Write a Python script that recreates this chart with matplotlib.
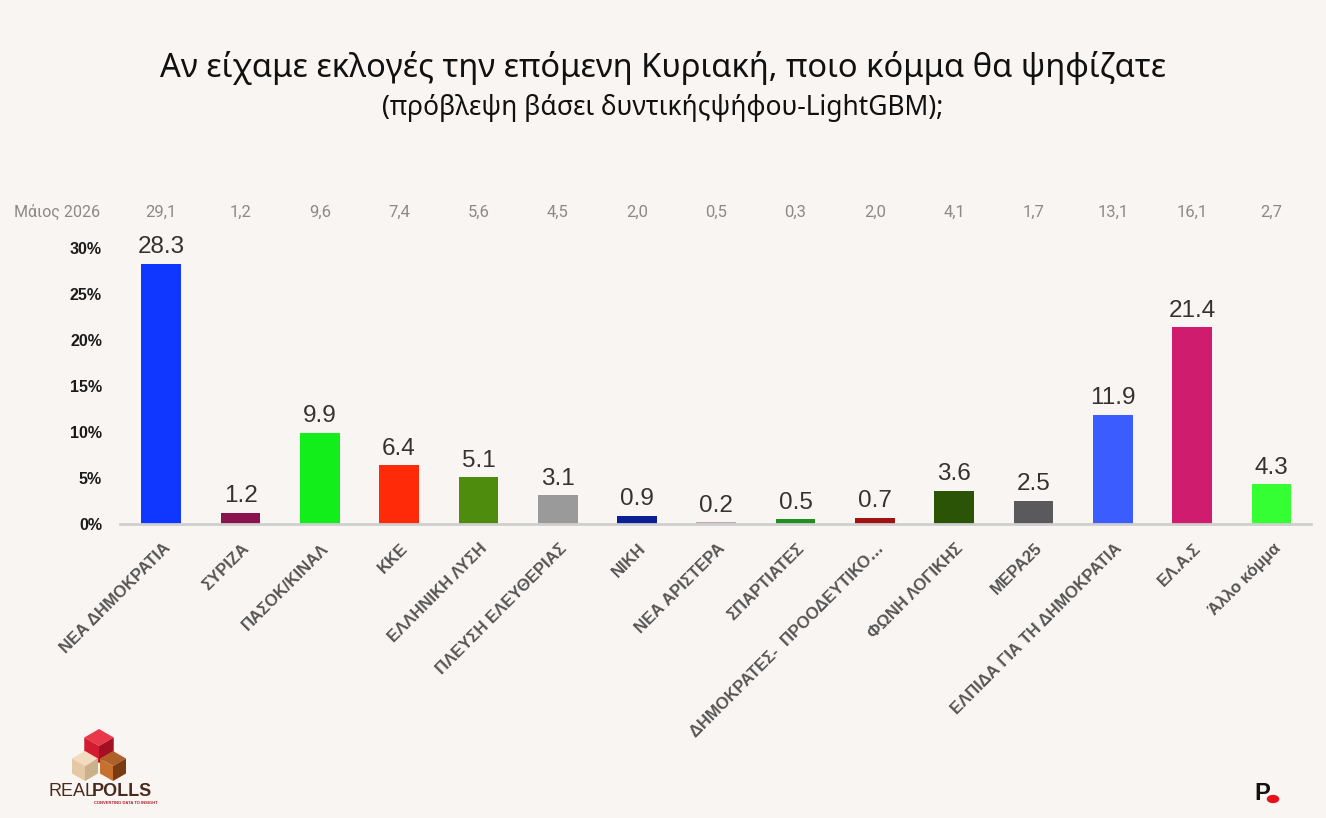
import matplotlib
matplotlib.use("Agg")
import matplotlib.pyplot as plt
from matplotlib.patches import Polygon, Circle
from matplotlib import transforms
import numpy as np

W, H = 1326, 818
BG = "#f9f5f2"

categories = ["ΝΕΑ ΔΗΜΟΚΡΑΤΙΑ", "ΣΥΡΙΖΑ", "ΠΑΣΟΚ/ΚΙΝΑΛ", "ΚΚΕ", "ΕΛΛΗΝΙΚΗ ΛΥΣΗ",
              "ΠΛΕΥΣΗ ΕΛΕΥΘΕΡΙΑΣ", "ΝΙΚΗ", "ΝΕΑ ΑΡΙΣΤΕΡΑ", "ΣΠΑΡΤΙΑΤΕΣ",
              "ΔΗΜΟΚΡΑΤΕΣ-  ΠΡΟΟΔΕΥΤΙΚΟ…", "ΦΩΝΗ ΛΟΓΙΚΗΣ", "ΜΕΡΑ25",
              "ΕΛΠΙΔΑ ΓΙΑ ΤΗ ΔΗΜΟΚΡΑΤΙΑ", "ΕΛ.Α.Σ", "Άλλο κόμμα"]
values = [28.3, 1.2, 9.9, 6.4, 5.1, 3.1, 0.9, 0.2, 0.5, 0.7, 3.6, 2.5, 11.9, 21.4, 4.3]
may2026 = ["29,1", "1,2", "9,6", "7,4", "5,6", "4,5", "2,0", "0,5", "0,3", "2,0",
           "4,1", "1,7", "13,1", "16,1", "2,7"]
colors = ["#0f37ff", "#8c124e", "#11ee1a", "#ff2a08", "#4d8c0c", "#9a9a9a", "#0b1f96",
          "#c6a8b0", "#1f8f22", "#9e1212", "#2c5406", "#5a5a5c", "#3b5cff", "#d01c6f",
          "#33ff33"]
yticks = [0, 5, 10, 15, 20, 25, 30]
ytick_labels = ["0%", "5%", "10%", "15%", "20%", "25%", "30%"]

fig = plt.figure(figsize=(W / 100, H / 100), dpi=100, facecolor=BG)

def fx(x):
    return x / W

def fy(y):
    return 1 - y / H

ax_l, ax_r, ax_b, ax_t = 120, 1311, 524, 248
ax = fig.add_axes([fx(ax_l), fy(ax_b), (ax_r - ax_l) / W, (ax_b - ax_t) / H])
ax.set_facecolor(BG)
x = np.arange(len(categories))
ax.bar(x, values, width=0.5, color=colors, zorder=2)
ax.set_xlim(-0.52, len(categories) - 0.5)
ax.set_ylim(0, 30)
for s in ["top", "right", "left"]:
    ax.spines[s].set_visible(False)
ax.spines["bottom"].set_color("#cfcfcf")
ax.spines["bottom"].set_linewidth(2)
ax.set_yticks(yticks)
ax.set_yticklabels(ytick_labels, fontsize=11.5, color="#1a1a1a", family="Liberation Sans",
                   fontweight="bold")
ax.tick_params(axis="y", length=0, pad=13)
ax.set_xticks(x)
ax.set_xticklabels([])
ax.tick_params(axis="x", length=0)

for xi, v in zip(x, values):
    ax.annotate(f"{v:.1f}", (xi, v), xytext=(0, 4), textcoords="offset points",
                ha="center", va="bottom", fontsize=17.5, color="#333333",
                family="Liberation Sans", clip_on=False)

for xi, lab in zip(x, categories):
    ax.annotate(lab, (xi, 0), xytext=(1, -12), textcoords="offset points",
                ha="right", va="top", rotation=45, rotation_mode="anchor",
                fontsize=12, fontweight="bold", color="#555555",
                family="Liberation Sans", annotation_clip=False)

# top row (Μάιος 2026)
blend = transforms.blended_transform_factory(ax.transData, fig.transFigure)
for xi, m in zip(x, may2026):
    ax.text(xi, fy(212), m, transform=blend, ha="center", va="center",
            fontsize=12, color="#8a8a8a", family="Roboto")
fig.text(fx(57), fy(212), "Μάιος 2026", ha="center", va="center", fontsize=11.5,
         color="#8a8a8a", family="Roboto")

# titles
fig.text(0.5, fy(68), "Αν είχαμε εκλογές την επόμενη Κυριακή, ποιο κόμμα θα ψηφίζατε",
         ha="center", va="center", fontsize=23.5, color="#111111", family="Noto Sans")
fig.text(0.5, fy(108), "(πρόβλεψη βάσει δυντικήςψήφου-LightGBM);",
         ha="center", va="center", fontsize=19, color="#111111", family="Noto Sans")

# logo cubes
def cube(cx, cy, r, top, left, right):
    c30 = np.cos(np.pi / 6)
    T = (cx, cy - r); UR = (cx + r * c30, cy - r / 2); LR = (cx + r * c30, cy + r / 2)
    B = (cx, cy + r); LL = (cx - r * c30, cy + r / 2); UL = (cx - r * c30, cy - r / 2)
    C = (cx, cy)
    for pts, col in [([C, UL, T, UR], top), ([C, B, LL, UL], left), ([C, UR, LR, B], right)]:
        fig.patches.append(Polygon([(fx(a), fy(b)) for a, b in pts], closed=True,
                                   transform=fig.transFigure, facecolor=col,
                                   edgecolor="none", figure=fig))

cube(99, 746, 17, "#e8384a", "#d21a30", "#a50f22")
cube(85, 766, 15, "#f2dcc0", "#e6c9a4", "#cbb08c")
cube(113, 766, 15, "#b0612a", "#c8702e", "#7a3a12")

fig.text(fx(48), fy(792), "REAL", ha="left", va="center", fontsize=13,
         color="#4a2a1e", family="Liberation Sans", fontweight="light")
fig.text(fx(92), fy(792), "POLLS", ha="left", va="center", fontsize=13,
         color="#4a2a1e", family="Liberation Sans", fontweight="bold")
fig.text(fx(126), fy(803), "CONVERTING DATA TO INSIGHT", ha="center", va="center",
         fontsize=3, color="#b0202a", family="Liberation Sans", fontweight="bold")

fig.text(fx(1262), fy(793), "P", ha="center", va="center", fontsize=17,
         color="#111111", family="Liberation Sans", fontweight="bold")
fig.patches.append(Circle((fx(1273), fy(799)), 0.0042, transform=fig.transFigure,
                          color="#e8101a", figure=fig))

fig.savefig("out.png", dpi=100, facecolor=BG)
